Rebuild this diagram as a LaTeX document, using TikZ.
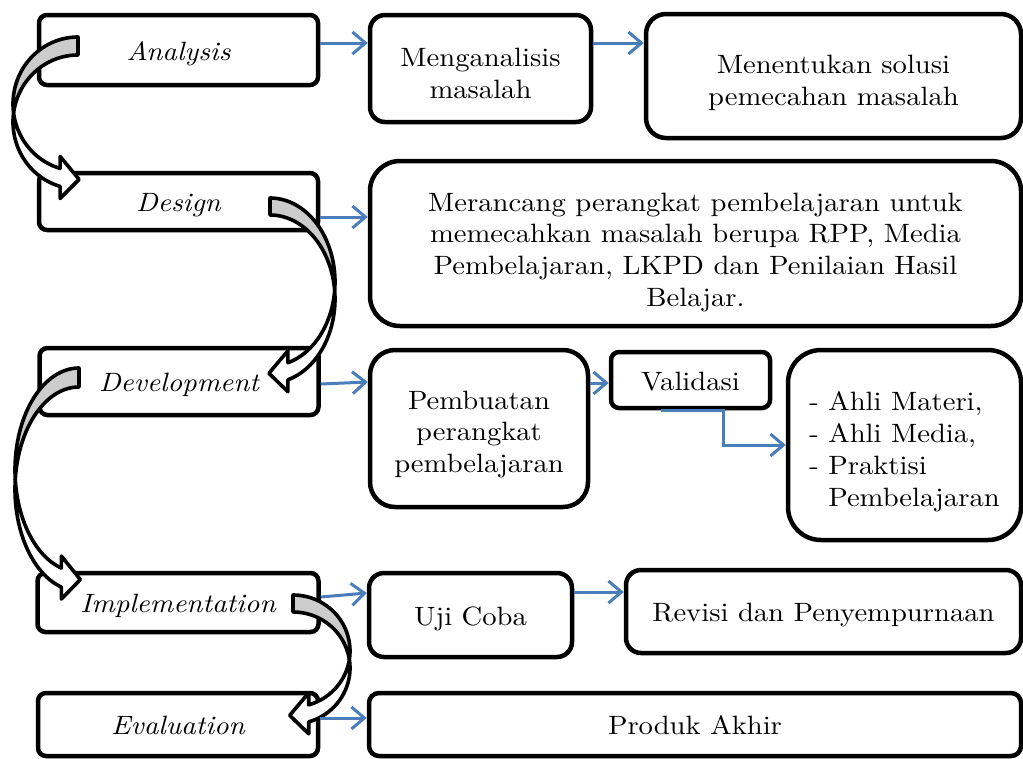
\documentclass[tikz,border=0pt]{standalone}
\usepackage{fontspec}
\setmainfont{lmroman10}[Extension=.otf, UprightFont=*-regular, ItalicFont=*-italic, BoldFont=*-bold, BoldItalicFont=*-bolditalic, FakeStretch=1.08]
\usetikzlibrary{arrows.meta}
\definecolor{arrowblue}{HTML}{4A7EBB}
\definecolor{backgrey}{HTML}{CCCCCC}
\newcommand{\topstrut}[1]{\rule{0pt}{#1}}
\tikzset{
  box/.style={draw=black, line width=4.5pt, fill=white, inner sep=0pt, align=center, rounded corners=#1},
  box/.default=8pt,
  lbl/.style={text height=25pt, text depth=5pt},
  barrow/.style={draw=arrowblue, line width=3pt, -{Straight Barb[length=13pt,width=22pt]}},
  ribbonback/.style={fill=backgrey, draw=black, line width=3.6pt, line join=round},
  ribbonfront/.style={fill=white, draw=black, line width=3.6pt, line join=round},
  every node/.style={font=\fontsize{26.5}{31.7}\selectfont}
}
% #1 xc, #2 yc, #3 rx, #4 ry, #5 thickness, #6 side (+1 right, -1 left)
\newcommand{\ribbonarrow}[6]{%
  \pgfmathsetmacro{\ral}{asin(#5/(2*#4))}%
  \pgfmathsetmacro{\rnx}{#1+#6*#3*cos(74)}%
  \pgfmathsetmacro{\rny}{#2+#4*sin(74)}%
  \pgfmathsetmacro{\rtx}{\rnx-#6*19}%
  \pgfmathsetmacro{\rty}{\rny+#5/2+2}%
  \filldraw[ribbonback] plot[domain=-90:\ral, samples=50, variable=\t] ({#1+#6*#3*cos(\t)},{#2+#4*sin(\t)})
    -- plot[domain=-\ral:-90, samples=50, variable=\t] ({#1+#6*#3*cos(\t)},{#2+#5+#4*sin(\t)}) -- cycle;
  \filldraw[ribbonfront] plot[domain=-\ral:74, samples=60, variable=\t] ({#1+#6*#3*cos(\t)},{#2+#5+#4*sin(\t)})
    -- (\rnx,\rny+#5+12) -- (\rtx,\rty) -- (\rnx,\rny-12)
    -- plot[domain=74:\ral, samples=60, variable=\t] ({#1+#6*#3*cos(\t)},{#2+#4*sin(\t)}) -- cycle;
}
\begin{document}
\begin{tikzpicture}[x=1pt, y=-1pt]
\useasboundingbox (0,0) rectangle (1023,758);
% left column
\node[box, lbl, minimum width=279, minimum height=70] (analysis) at (178.5,50) {\itshape Analysis};
\node[box, lbl, minimum width=279, minimum height=57] (design) at (178.5,201.5) {\itshape Design};
\node[box, lbl, minimum width=279, minimum height=67] (development) at (179,381.5) {\itshape Development};
\node[box, lbl, minimum width=281, minimum height=59] (implementation) at (178,602.5) {\itshape Implementation};
\node[box, lbl, minimum width=280, minimum height=63] (evaluation) at (178,724.5) {\itshape Evaluation};
% right side
\node[box=15pt, minimum width=221, minimum height=107] (menganalisis) at (480.5,68.5) {\topstrut{28.4pt}Menganalisis\\masalah};
\node[box=20pt, minimum width=375, minimum height=124] (menentukan) at (833.5,76) {\topstrut{32.4pt}Menentukan solusi\\pemecahan masalah};
\node[box=30pt, minimum width=651, minimum height=165] (merancang) at (695.5,243.5) {\topstrut{36pt}Merancang perangkat pembelajaran untuk\\memecahkan masalah berupa RPP, Media\\Pembelajaran, LKPD dan Penilaian Hasil\\Belajar.};
\node[box=25pt, minimum width=218, minimum height=157] (pembuatan) at (479,428.5) {\topstrut{30.4pt}Pembuatan\\perangkat\\pembelajaran};
\node[box, lbl, minimum width=159, minimum height=56] (validasi) at (690.5,380) {Validasi};
\node[box=33pt, align=left, minimum width=233, minimum height=190] (ahli) at (904.5,445) {\topstrut{32.4pt}- Ahli Materi,\\- Ahli Media,\\- Praktisi\\\hphantom{-}\ Pembelajaran};
\node[box=15pt, lbl, minimum width=203, minimum height=84] (uji) at (470.5,615) {Uji Coba};
\node[box=15pt, lbl, minimum width=395, minimum height=83] (revisi) at (823.5,611.5) {Revisi dan Penyempurnaan};
\node[box=10pt, lbl, minimum width=652, minimum height=63] (produk) at (695,724.5) {Produk Akhir};
% curved ribbon arrows
\ribbonarrow{78}{104}{65}{67}{18}{-1}
\ribbonarrow{270}{282}{65}{84}{17}{1}
\ribbonarrow{79}{470}{64}{102}{19}{-1}
\ribbonarrow{293}{651}{57}{56}{17}{1}
% blue connectors
\draw[barrow] ([yshift=7]analysis.east) -- ([yshift=7]analysis.east -| menganalisis.west);
\draw[barrow] ([yshift=25.5]menganalisis.east) -- ([yshift=25.5]menganalisis.east -| menentukan.west);
\draw[barrow] ([yshift=-15.5]design.east) -- ([yshift=-15.5]design.east -| merancang.west);
\draw[barrow] ([yshift=-2.5]development.east) -- ([yshift=-0.5]development.east -| pembuatan.west);
\draw[barrow] ([yshift=-3]validasi.west -| pembuatan.east) -- ([yshift=-3]validasi.west);
\draw[barrow] ([xshift=-30]validasi.south) -- ++(63,0) |- (ahli.west);
\draw[barrow] ([yshift=5.5]implementation.east) -- ([yshift=9.5]implementation.east -| uji.west);
\draw[barrow] ([yshift=23]uji.east) -- ([yshift=23]uji.east -| revisi.west);
\draw[barrow] ([yshift=6.5]evaluation.east) -- ([yshift=6.5]evaluation.east -| produk.west);
\end{tikzpicture}
\end{document}
